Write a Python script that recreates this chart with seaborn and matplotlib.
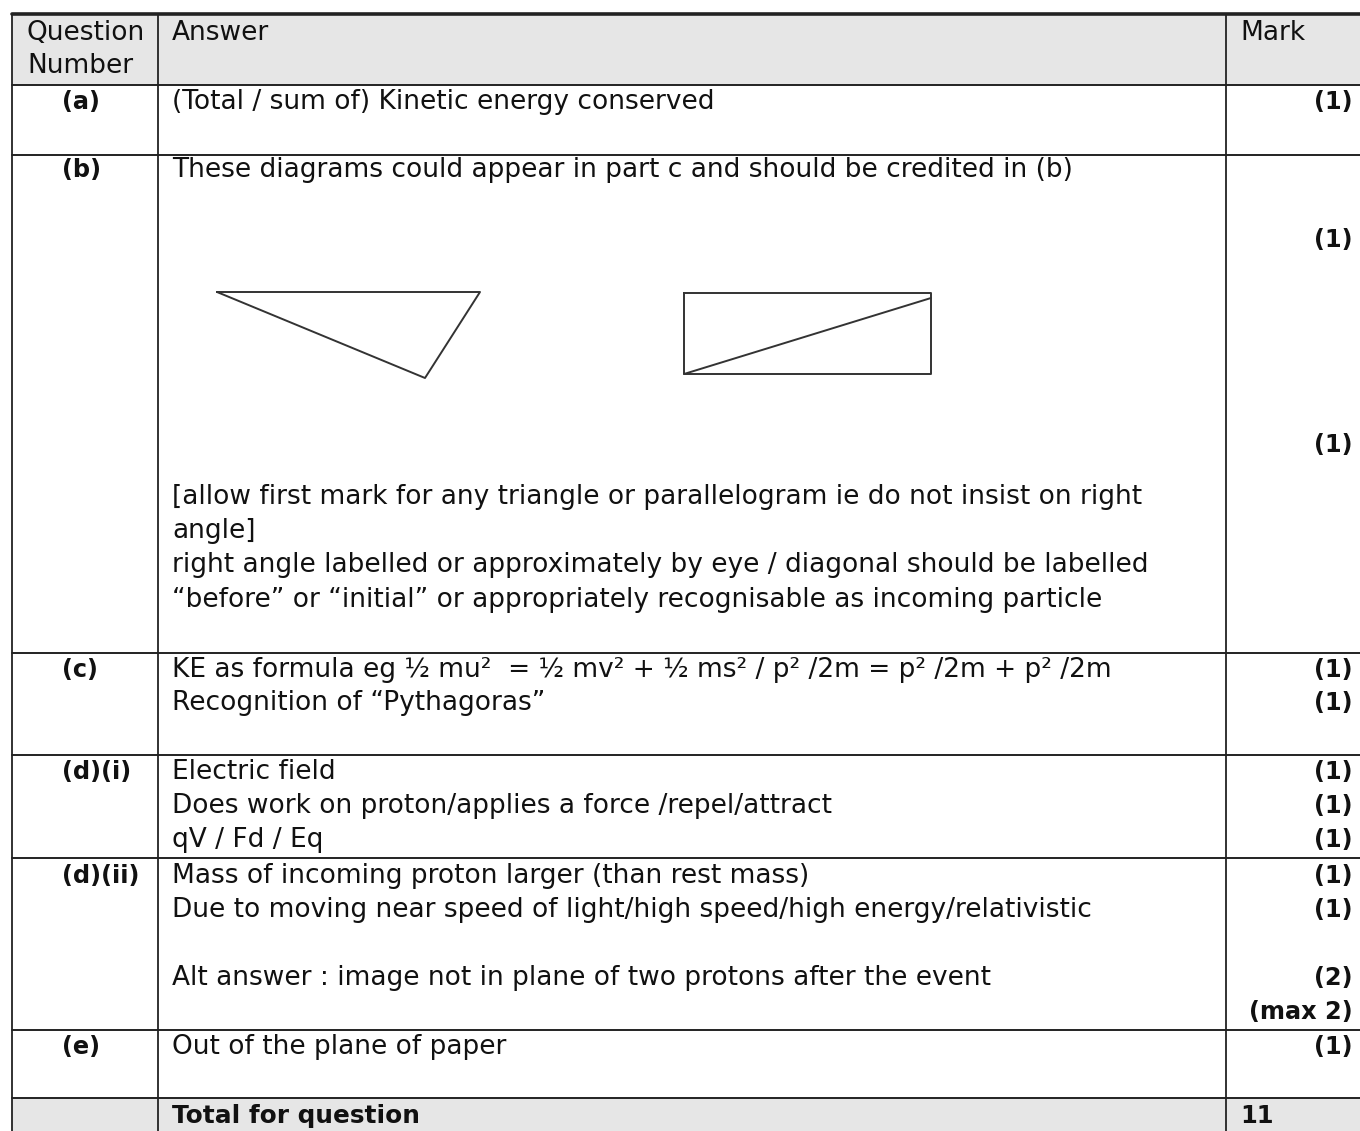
import matplotlib
matplotlib.use("Agg")
import matplotlib.pyplot as plt
import pandas as pd
import seaborn as sns

# ---------------------------------------------------
# contenu du tableau (mark scheme)
# ---------------------------------------------------
header = ["Question\nNumber", "Answer", "Mark"]

question_ids = ["(a)", "(b)", "(c)", "(d)(i)", "(d)(ii)", "(e)"]

answers = [
    ["(Total / sum of) Kinetic energy conserved"],
    ["These diagrams could appear in part c and should be credited in (b)",
     "[allow first mark for any triangle or parallelogram ie do not insist on right",
     "angle]",
     "right angle labelled or approximately by eye / diagonal should be labelled",
     "\u201cbefore\u201d or \u201cinitial\u201d or appropriately recognisable as incoming particle"],
    ["KE as formula eg \u00bd mu\u00b2  = \u00bd mv\u00b2 + \u00bd ms\u00b2 / p\u00b2 /2m = p\u00b2 /2m + p\u00b2 /2m",
     "Recognition of \u201cPythagoras\u201d"],
    ["Electric field",
     "Does work on proton/applies a force /repel/attract",
     "qV / Fd / Eq"],
    ["Mass of incoming proton larger (than rest mass)",
     "Due to moving near speed of light/high speed/high energy/relativistic",
     "",
     "Alt answer : image not in plane of two protons after the event"],
    ["Out of the plane of paper"],
]

marks = [
    ["(1)"],
    ["(1)", "(1)"],
    ["(1)", "(1)"],
    ["(1)", "(1)", "(1)"],
    ["(1)", "(1)", "(2)", "(max 2)"],
    ["(1)"],
]

total_label = "Total for question"
total_mark = "11"

# croquis de la partie (b) : triangle et rectangle avec diagonale
triangle = pd.DataFrame({"x": [217, 480, 425, 217], "y": [292, 292, 378, 292]})
rect = pd.DataFrame({"x": [684, 931, 931, 684, 684],
                     "y": [293, 293, 374, 374, 293]})
diag = pd.DataFrame({"x": [684, 931], "y": [374, 298]})

# ---------------------------------------------------
# mise en page (pixels)
# ---------------------------------------------------
W, H = 1360, 1131
row_edges = [14, 85, 155, 653, 755, 858, 1030, 1098, 1131]
col_edges = [12, 158, 1226]

answer_y = [
    [102],
    [170, 497, 531, 565, 600],
    [670, 703],
    [772, 806, 840],
    [876, 910, 944, 978],
    [1047],
]
mark_y = [
    [102],
    [240, 445],
    [670, 703],
    [772, 806, 840],
    [876, 910, 978, 1012],
    [1047],
]

sns.set_theme(style="white")
plt.rcParams["font.family"] = ["DejaVu Sans"]

fig = plt.figure(figsize=(13.6, 11.31), dpi=100)
ax = fig.add_axes([0, 0, 1, 1])

fs = 19          # texte normal
fb = 17.3        # texte gras
grey = "#e6e6e6"
lc = "#222222"
tc = "#111111"

# fonds gris en-tête et total
ax.fill_between([col_edges[0], W], row_edges[0], row_edges[1], color=grey, lw=0)
ax.fill_between([col_edges[0], W], row_edges[-2], row_edges[-1], color=grey, lw=0)

# lignes horizontales
ax.plot([col_edges[0], W], [row_edges[0], row_edges[0]], color=lc, lw=2.6)
for y in row_edges[1:-1]:
    ax.plot([col_edges[0], W], [y, y], color=lc, lw=1.4)
# lignes verticales
for x in col_edges:
    ax.plot([x, x], [row_edges[0], H], color=lc, lw=1.3)

# en-tête
ax.text(27, 33, "Question", fontsize=fs, va="center", ha="left", color=tc)
ax.text(27, 66, "Number", fontsize=fs, va="center", ha="left", color=tc)
ax.text(172, 33, header[1], fontsize=fs, va="center", ha="left", color=tc)
ax.text(1240, 33, header[2], fontsize=fs, va="center", ha="left", color=tc)

# lignes du tableau
for i, qid in enumerate(question_ids):
    ax.text(62, answer_y[i][0], qid, fontsize=fb, fontweight="bold",
            va="center", ha="left", color=tc)
    for txt, y in zip(answers[i], answer_y[i]):
        if txt:
            ax.text(172, y, txt, fontsize=fs, va="center", ha="left", color=tc)
    for m, y in zip(marks[i], mark_y[i]):
        ax.text(1353, y, m, fontsize=fb, fontweight="bold",
                va="center", ha="right", color=tc)

# total
ax.text(172, 1116, total_label, fontsize=fb + 0.5, fontweight="bold",
        va="center", ha="left", color=tc)
ax.text(1240, 1116, total_mark, fontsize=fb, fontweight="bold",
        va="center", ha="left", color=tc)

# croquis
for shape in [triangle, rect, diag]:
    sns.lineplot(data=shape, x="x", y="y", sort=False, estimator=None,
                 color="#333333", lw=1.4, ax=ax)

ax.set_xlim(0, W)
ax.set_ylim(H, 0)
ax.axis("off")

fig.savefig("out.png", dpi=100, facecolor="white")
